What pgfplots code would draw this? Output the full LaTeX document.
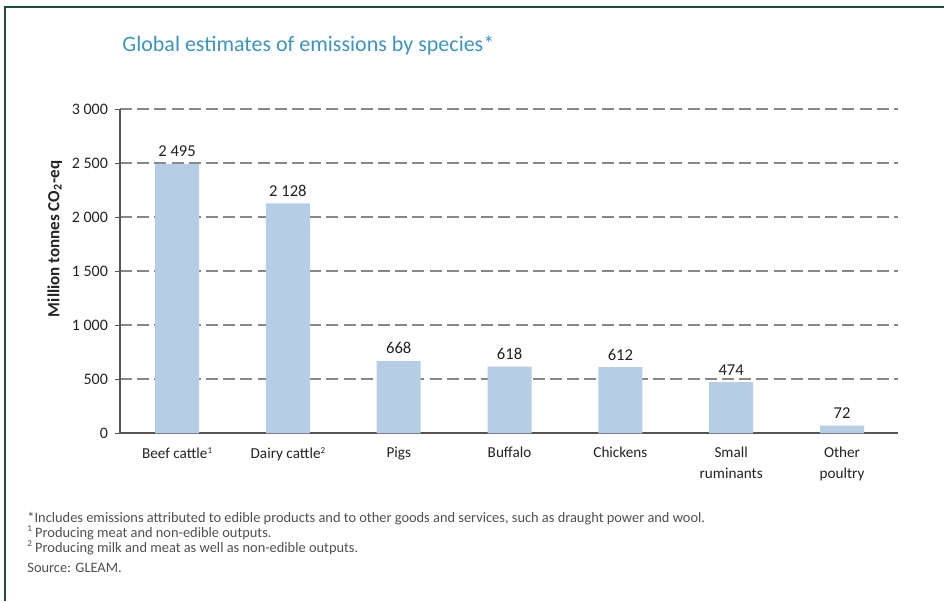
\documentclass[border=0pt]{standalone}
\usepackage{fontspec}
\setmainfont{Carlito}
\usepackage{pgfplots}
\pgfplotsset{compat=1.18}

\definecolor{titleblue}{RGB}{62,148,190}
\definecolor{barblue}{RGB}{181,206,229}
\definecolor{gridgray}{RGB}{135,135,135}
\definecolor{axisgray}{RGB}{85,85,85}
\definecolor{txt}{RGB}{35,35,35}
\definecolor{notegray}{RGB}{80,80,80}
\definecolor{framegreen}{RGB}{32,78,56}

% small raised note markers
\newcommand{\note}[1]{\raisebox{0.75ex}{\fontsize{4.5}{5}\selectfont #1}}

\pgfplotstableread{
idx value
0 2495
1 2128
2 668
3 618
4 612
5 474
6 72
}\species

\begin{document}
\begin{tikzpicture}
% page area and frame
\path[use as bounding box, fill=white] (0,0) rectangle (472pt,300.5pt);
\draw[framegreen, line width=1.2pt] (2.5pt,0) -- (2.5pt,297pt) -- (472pt,297pt);

% title
\node[anchor=base west, inner sep=0, text=titleblue, font=\fontsize{11}{13}\selectfont]
  at (61pt,274.5pt) {Global estimates of emissions by species*};

\begin{axis}[
  at={(60pt,83.85pt)}, anchor=south west,
  scale only axis, width=389pt, height=162pt,
  xmin=-0.515, xmax=6.505, ymin=0, ymax=3000,
  axis x line=bottom, axis y line=left,
  axis line style={-, axisgray, line width=0.85pt},
  xtick={0,...,6},
  xticklabels={Beef cattle\note{1}, Dairy cattle\note{2}, Pigs, Buffalo, Chickens, Small\\ruminants, Other\\poultry},
  x tick style={draw=none},
  x tick label style={align=center, text=txt, font=\fontsize{7.6}{10.5}\selectfont, yshift=-1pt},
  ytick={0,500,...,3000},
  y tick style={axisgray, line width=0.7pt},
  tick align=outside, major tick length=2.5pt,
  y tick label style={text=txt, font=\fontsize{8}{9}\selectfont},
  ymajorgrids,
  grid style={gridgray, dash pattern=on 6pt off 2.6pt, line width=0.9pt},
  ylabel={\bfseries Million tonnes CO\textsubscript{2}-eq},
  ylabel style={at={(axis description cs:-0.084,0.6)}, anchor=center, font=\fontsize{8.5}{10}\selectfont, text=txt},
  ybar, bar width=22pt,
  nodes near coords,
  nodes near coords style={text=txt, font=\fontsize{8.3}{10}\selectfont},
  /pgf/number format/.cd, 1000 sep={\ }, assume math mode=true,
]
\addplot[fill=barblue, draw=none] table[x=idx, y=value] {\species};
\end{axis}

% notes
\begin{scope}[every node/.style={anchor=base west, inner sep=0, text=notegray, font=\fontsize{7.2}{8.5}\selectfont}]
\node at (13.5pt,39.5pt) {*Includes emissions attributed to edible products and to other goods and services, such as draught power and wool.};
\node at (13.5pt,32pt) {\note{1} Producing meat and non-edible outputs.};
\node at (13.5pt,24.5pt) {\note{2} Producing milk and meat as well as non-edible outputs.};
\node at (13.5pt,14.5pt) {Source: GLEAM.};
\end{scope}
\end{tikzpicture}
\end{document}
